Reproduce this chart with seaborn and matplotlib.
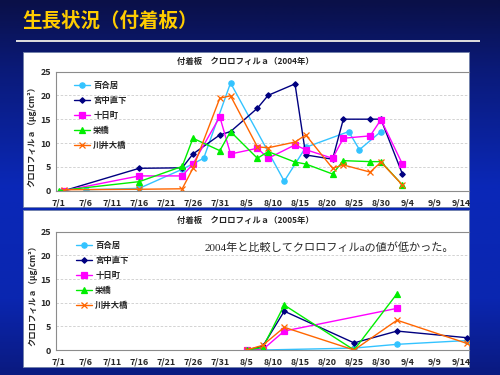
import numpy as np
import pandas as pd
import matplotlib
matplotlib.use('Agg')
import matplotlib.pyplot as plt
import matplotlib.dates as mdates
from matplotlib.colors import LinearSegmentedColormap
from matplotlib.patches import Rectangle
from matplotlib.ticker import MultipleLocator
import seaborn as sns

sns.set_style('white')
plt.rcParams['font.family'] = ['Noto Sans CJK JP', 'DejaVu Sans']
plt.rcParams['font.weight'] = 'bold'
plt.rcParams['axes.unicode_minus'] = False

# 地点
sites = ['百合居', '宮中直下', '十日町', '栄橋', '川井大橋']
site_colors = ['#33c3ff', '#000080', '#ff00ff', '#00ee00', '#ff6600']
site_markers = ['o', 'D', 's', '^', 'x']
marker_sizes = [3.8, 2.8, 3.8, 4.2, 4.4]

# 2004年データ
d04_yuri = ['7/6', '7/16', '7/24', '7/28', '8/2', '8/12', '8/16', '8/24', '8/26', '8/30']
v04_yuri = [0.2, 0.5, 4.5, 6.8, 22.6, 2.0, 9.1, 12.4, 8.6, 12.4]
d04_miya = ['7/2', '7/16', '7/24', '7/26', '7/31', '8/2', '8/7', '8/9', '8/14', '8/16',
            '8/21', '8/23', '8/28', '8/30', '9/3']
v04_miya = [0.0, 4.7, 4.8, 7.7, 11.7, 12.4, 17.3, 20.0, 22.4, 7.5, 6.6, 15.0, 15.0, 15.0, 3.5]
d04_toka = ['7/2', '7/16', '7/24', '7/26', '7/31', '8/2', '8/7', '8/9', '8/14', '8/16',
            '8/21', '8/23', '8/28', '8/30', '9/3']
v04_toka = [0.0, 3.1, 3.1, 5.6, 15.5, 7.7, 8.9, 6.8, 9.6, 8.6, 6.8, 11.0, 11.5, 14.9, 5.6]
d04_sakae = ['7/1', '7/16', '7/24', '7/26', '7/31', '8/2', '8/7', '8/9', '8/14', '8/16',
             '8/21', '8/23', '8/28', '8/30', '9/3']
v04_sakae = [0.0, 1.9, 5.1, 11.0, 8.4, 12.4, 6.8, 8.2, 6.0, 5.6, 3.5, 6.3, 6.1, 6.1, 1.2]
d04_kawai = ['7/2', '7/16', '7/24', '7/26', '7/31', '8/2', '8/7', '8/9', '8/14', '8/16',
             '8/21', '8/23', '8/28', '8/30', '9/3']
v04_kawai = [0.2, 0.3, 0.4, 4.7, 19.4, 19.9, 9.2, 9.0, 10.2, 11.7, 4.7, 5.4, 3.9, 6.0, 1.2]

# 2005年データ
d05_yuri = ['8/5', '8/8', '8/25', '9/2', '9/15']
v05_yuri = [0.0, 0.0, 0.4, 1.2, 2.0]
d05_miya = ['8/5', '8/8', '8/12', '8/25', '9/2', '9/15']
v05_miya = [0.0, 0.8, 8.2, 1.5, 4.0, 2.6]
d05_toka = ['8/5', '8/8', '8/12', '9/2']
v05_toka = [0.0, 0.1, 4.0, 8.8]
d05_sakae = ['8/5', '8/8', '8/12', '8/25', '9/2']
v05_sakae = [0.0, 0.5, 9.5, 0.0, 11.9]
d05_kawai = ['8/5', '8/8', '8/12', '8/25', '9/2', '9/15']
v05_kawai = [0.0, 1.0, 4.8, 0.0, 6.3, 1.4]

x_tick_labels = ['7/1', '7/6', '7/11', '7/16', '7/21', '7/26', '7/31', '8/5', '8/10',
                 '8/15', '8/20', '8/25', '8/30', '9/4', '9/9', '9/14']
y_ticks = [0, 5, 10, 15, 20, 25]

W, H = 500, 375
fig = plt.figure(figsize=(5, 3.75), dpi=100)

# 背景 (ピクセル座標)
bg = fig.add_axes([0, 0, 1, 1], zorder=-10)
bg.set_xlim(0, W)
bg.set_ylim(H, 0)
bg.axis('off')
bg_cmap = LinearSegmentedColormap.from_list(
    'bg', [(0, '#0a1048'), (0.18, '#0a1a78'), (0.5, '#0a28b8'), (0.8, '#0a26b0'), (1, '#0a1a80')])
bg.imshow(np.linspace(0, 1, 200)[:, None], cmap=bg_cmap, aspect='auto', extent=[0, W, H, 0])

bg.text(22, 21, '生長状況（付着板）', color='#ffcc00', fontsize=14, fontweight='bold',
        va='center', ha='left')
bg.plot([16, 480], [41, 41], color='#e0e0e0', lw=1.4, solid_capstyle='butt')

for top, bottom in [(51.7, 207.3), (209.5, 367)]:
    bg.add_patch(Rectangle((22.5, top), 469 - 22.5, bottom - top, facecolor='white',
                           edgecolor='#7080a8', lw=0.6))


def draw_chart(year, series, ax_top, ax_bottom, title_y, ylabel_x, legend_x, legend_y):
    ax = fig.add_axes([56 / W, 1 - ax_bottom / H, (469 - 56) / W, (ax_bottom - ax_top) / H])
    for name, c, m, ms, (ds, vs) in zip(sites, site_colors, site_markers, marker_sizes, series):
        dates = pd.to_datetime([f'{year}/{d}' for d in ds])
        sns.lineplot(x=dates, y=vs, ax=ax, color=c, marker=m, markersize=ms,
                     markeredgecolor=c, markerfacecolor=c, markeredgewidth=0.9,
                     linewidth=1.0, label=name)
    start = pd.Timestamp(f'{year}-07-01')
    ax.set_xlim(start - pd.Timedelta(hours=12), start + pd.Timedelta(days=76.4))
    ax.set_ylim(0, 25)
    ax.set_xticks(pd.to_datetime([f'{year}/{t}' for t in x_tick_labels]))
    ax.set_xticklabels(x_tick_labels)
    ax.set_yticks(y_ticks)
    ax.xaxis.set_minor_locator(mdates.DayLocator())
    ax.yaxis.set_minor_locator(MultipleLocator(1))
    ax.tick_params(axis='both', which='major', labelsize=6.4, color='#808080', length=3,
                   direction='inout', width=0.6)
    ax.tick_params(axis='x', which='major', pad=4)
    ax.tick_params(axis='y', which='major', pad=2)
    ax.tick_params(axis='both', which='minor', color='#909090', length=2,
                   direction='inout', width=0.5)
    ax.set_xlabel('')
    ax.set_ylabel('')
    ax.yaxis.grid(True, linestyle=(0, (3, 2)), color='#cccccc', lw=0.6)
    ax.xaxis.grid(False)
    for s in ['left', 'bottom', 'top']:
        ax.spines[s].set_color('#8c8c8c')
        ax.spines[s].set_linewidth(0.8)
    ax.spines['right'].set_visible(False)
    ax.legend(loc='upper left', bbox_to_anchor=(legend_x / W, 1 - legend_y / H),
              bbox_transform=fig.transFigure, frameon=False,
              prop={'weight': 'bold', 'size': 6}, handlelength=1.9, handletextpad=0.4,
              labelspacing=0.72, borderpad=0, borderaxespad=0)
    bg.text(245.5, title_y, f'付着板　クロロフィルａ（{year}年）', fontsize=6,
            fontweight='bold', ha='center', va='center')
    bg.text(ylabel_x, (ax_top + ax_bottom) / 2 + 3, 'クロロフィルａ（μg/cm²）', fontsize=6,
            fontweight='bold', rotation=90, ha='center', va='center')
    return ax


series_2004 = [(d04_yuri, v04_yuri), (d04_miya, v04_miya), (d04_toka, v04_toka),
               (d04_sakae, v04_sakae), (d04_kawai, v04_kawai)]
series_2005 = [(d05_yuri, v05_yuri), (d05_miya, v05_miya), (d05_toka, v05_toka),
               (d05_sakae, v05_sakae), (d05_kawai, v05_kawai)]

draw_chart(2004, series_2004, 71.5, 190.7, 61.5, 32, 74, 81)
draw_chart(2005, series_2005, 231.7, 350, 220, 33, 76, 240.5)

fig.text(205 / W, 1 - 248 / H, '2004年と比較してクロロフィルaの値が低かった。',
         family=['Liberation Serif', 'Noto Sans CJK JP'], fontweight='normal',
         fontsize=8, ha='left', va='center', zorder=5)

fig.savefig('out.png', dpi=100)
